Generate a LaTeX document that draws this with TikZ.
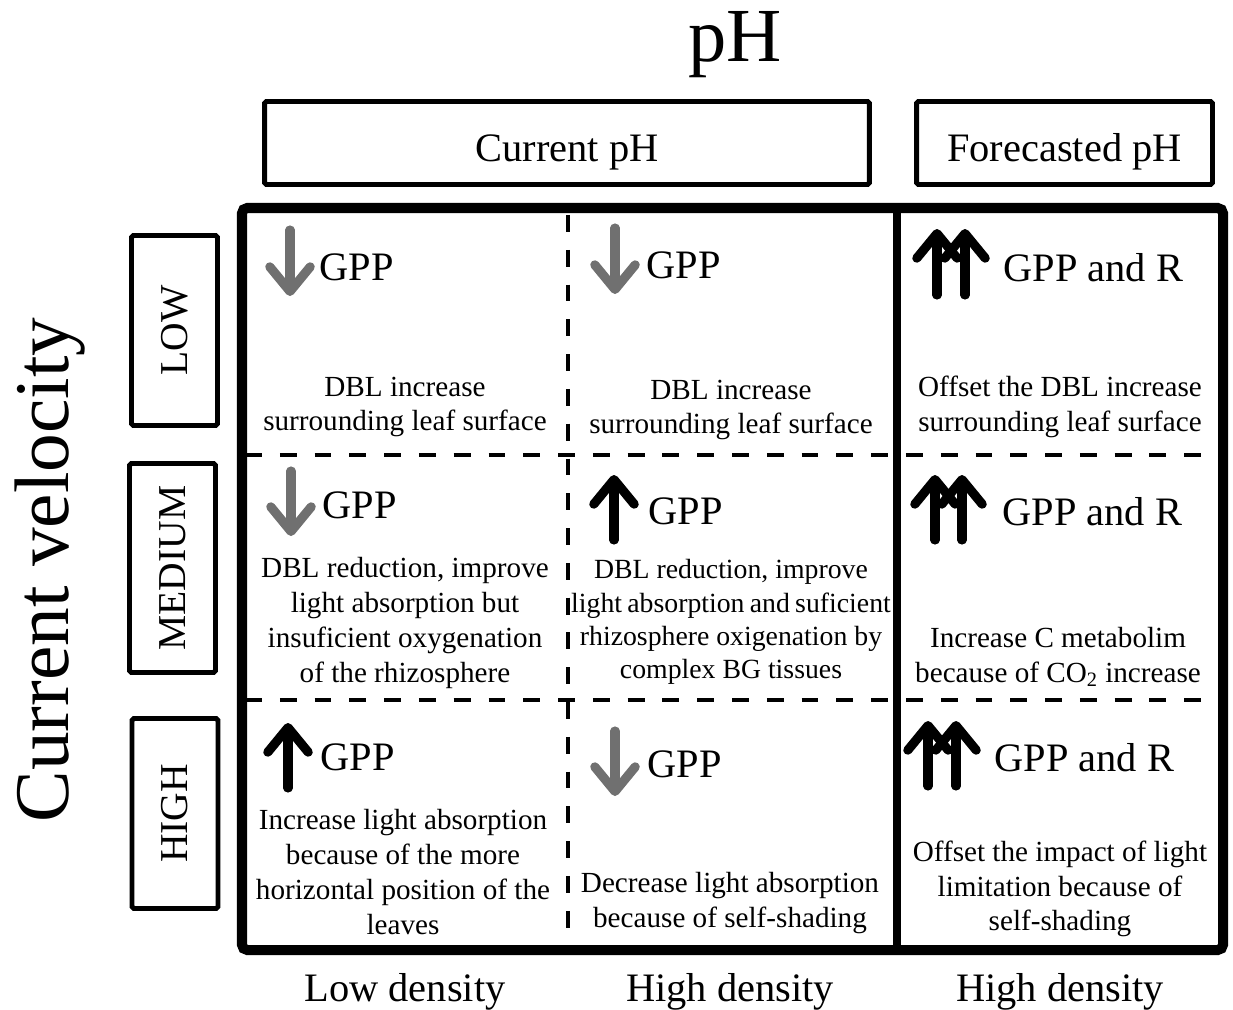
\documentclass[tikz,border=0pt]{standalone}
\usepackage{fontspec}
\setmainfont{Liberation Serif}
\usepackage{xcolor}
\usepackage{tikz}
\usetikzlibrary{arrows.meta}

\definecolor{arrgray}{RGB}{112,112,112}

\begin{document}
\begin{tikzpicture}[x=0.02cm,y=-0.02cm,
  celltext/.style={align=center,font=\fontsize{16.6}{19.8}\selectfont,inner sep=0pt},
  gpp/.style={anchor=west,font=\fontsize{23}{27}\selectfont,inner sep=0pt},
  headbox/.style={draw,line width=2.8pt,rounded corners=1pt,font=\fontsize{23}{27}\selectfont,minimum height=1.66cm,text height=21pt,text depth=0pt},
  rowbox/.style={draw,line width=2.8pt,rounded corners=1pt,rotate=90,font=\fontsize{22.5}{27}\selectfont,minimum height=1.72cm},
  axislbl/.style={font=\fontsize{23}{27}\selectfont,inner sep=0pt},
  sep/.style={line width=2.8pt,dash pattern=on 9.6pt off 10.2pt},
  downarr/.style={draw=arrgray,line width=5.2pt,line cap=round,-{Straight Barb[length=14pt,width=23pt,round]}},
  uparr/.style={draw=black,line width=5.2pt,line cap=round,-{Straight Barb[length=14pt,width=23pt,round]}}]
\useasboundingbox (0,0) rectangle (1233,1010);

% Titles
\node[font=\fontsize{43.5}{50}\selectfont,inner sep=0pt] (ph) at (735,45) {pH};
\node[font=\fontsize{44}{50}\selectfont,rotate=90,inner sep=0pt] (vel) at (50,570) {Current velocity};

% Column and row headers
\node[headbox,minimum width=12.1cm] (cur) at (567,143) {Current pH};
\node[headbox,minimum width=5.92cm] (fore) at (1064.5,143) {Forecasted pH};
\node[rowbox,minimum width=3.8cm] (low) at (174.5,330.5) {LOW};
\node[rowbox,minimum width=4.18cm] (med) at (172.5,568) {MEDIUM};
\node[rowbox,minimum width=3.8cm] (high) at (175,813.5) {HIGH};

% Frame
\draw[line width=5.7pt,rounded corners=3pt] (242,208) rectangle (1223,950);
\draw[line width=5.1pt] (897,208) -- (897,950);
\draw[sep] (568,215) -- (568,945);
\draw[sep] (245,455) -- (1220,455);
\draw[sep] (245,700) -- (1220,700);

% Low velocity
\draw[downarr] (290,230) -- (290,296);
\node[gpp] (g11) at (319,267) {GPP};
\node[celltext] (t11) at (405,407) {DBL increase\\surrounding leaf surface};
\draw[downarr] (615,228) -- (615,294);
\node[gpp] (g12) at (646,265) {GPP};
\node[celltext] (t12) at (731,410) {DBL increase\\surrounding leaf surface};
\draw[uparr] (937,295) -- (937,229);
\draw[uparr] (965,295) -- (965,229);
\node[gpp] (g13) at (1003,268) {GPP and R};
\node[celltext] (t13) at (1060,407) {Offset the DBL increase\\surrounding leaf surface};

% Medium velocity
\draw[downarr] (291,471) -- (291,536);
\node[gpp] (g21) at (322,505) {GPP};
\node[celltext] (t21) at (405,623) {DBL reduction, improve\\light absorption but\\insuficient oxygenation\\of the rhizosphere};
\draw[uparr] (614,540) -- (614,475);
\node[gpp] (g22) at (648,511) {GPP};
\node[celltext,font=\fontsize{15.8}{18.9}\selectfont] (t22) at (731,622) {DBL reduction, improve\\{\spaceskip=0.19em light absorption and suficient}\\rhizosphere oxigenation by\\complex BG tissues};
\draw[uparr] (935,540) -- (935,475);
\draw[uparr] (962,540) -- (962,475);
\node[gpp] (g23) at (1002,512) {GPP and R};
\node[celltext] (t23) at (1058,657) {Increase C metabolim\\because of CO\textsubscript{2} increase};

% High velocity
\draw[uparr] (288,788) -- (288,723);
\node[gpp] (g31) at (320,757) {GPP};
\node[celltext] (t31) at (403,872) {Increase light absorption\\because of the more\\horizontal position of the\\leaves};
\draw[downarr] (615,731) -- (615,796);
\node[gpp] (g32) at (647,764) {GPP};
\node[celltext] (t32) at (730,903) {Decrease light absorption\\because of self-shading};
\draw[uparr] (928,786) -- (928,721);
\draw[uparr] (956,786) -- (956,721);
\node[gpp] (g33) at (994,758) {GPP and R};
\node[celltext] (t33) at (1060,889) {Offset the impact of light\\limitation because of\\self-shading};

% Density labels
\node[axislbl] (d1) at (405,992) {Low density};
\node[axislbl] (d2) at (730,992) {High density};
\node[axislbl] (d3) at (1060,992) {High density};
\end{tikzpicture}
\end{document}
